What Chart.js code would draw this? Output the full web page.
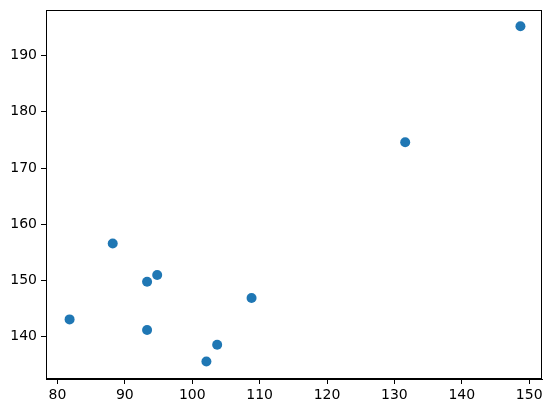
<!DOCTYPE html>
<html>
<head>
<meta charset="utf-8">
<script src="https://cdn.jsdelivr.net/npm/chart.js@4/dist/chart.umd.min.js"></script>
<style>
  html, body { margin: 0; padding: 0; background: #fff; }
  canvas { display: block; }
</style>
</head>
<body>
<canvas id="scatterChart" width="552" height="413"></canvas>
<script>
// Values
const xValues = [148.7, 131.6, 88.2, 94.8, 93.3, 81.8, 93.3, 108.8, 103.7, 102.1];
const yValues = [195.2, 174.6, 156.6, 151.0, 149.8, 143.1, 141.2, 146.9, 138.6, 135.6];
const xTicks = [80, 90, 100, 110, 120, 130, 140, 150];
const yTicks = [140, 150, 160, 170, 180, 190];

const points = xValues.map((x, i) => ({ x: x, y: yValues[i] }));

// matplotlib-style box around the plot area
const frameBox = {
    id: 'frameBox',
    afterDraw(chart) {
        const { ctx, chartArea } = chart;
        ctx.save();
        ctx.strokeStyle = '#000';
        ctx.lineWidth = 1;
        ctx.strokeRect(chartArea.left + 0.5, chartArea.top + 0.5,
            chartArea.right - chartArea.left - 1, chartArea.bottom - chartArea.top - 1);
        ctx.restore();
    }
};

const tickFont = { family: 'DejaVu Sans', size: 14 };

new Chart(document.getElementById('scatterChart').getContext('2d'), {
    type: 'scatter',
    data: {
        datasets: [{
            data: points,
            backgroundColor: '#1f77b4',
            borderWidth: 0,
            pointRadius: 5,
            pointHoverRadius: 5
        }]
    },
    options: {
        responsive: false,
        animation: false,
        layout: { padding: { top: 10, right: 10, left: 0, bottom: 0 } },
        plugins: { legend: { display: false }, tooltip: { enabled: false } },
        scales: {
            x: {
                type: 'linear',
                min: 78.3,
                max: 151.9,
                afterBuildTicks: scale => { scale.ticks = xTicks.map(v => ({ value: v })); },
                afterFit: scale => {
                    scale.height = 34;
                    scale.paddingLeft = 0;
                    scale.paddingRight = 0;
                },
                ticks: { color: '#000', font: tickFont, padding: 3, maxRotation: 0 },
                grid: { drawOnChartArea: false, color: '#000', tickLength: 5, tickWidth: 1 },
                border: { color: '#000', width: 1 }
            },
            y: {
                type: 'linear',
                min: 132.5,
                max: 198.1,
                afterBuildTicks: scale => { scale.ticks = yTicks.map(v => ({ value: v })); },
                afterFit: scale => {
                    scale.width = 46;
                    scale.paddingTop = 0;
                    scale.paddingBottom = 0;
                },
                ticks: { color: '#000', font: tickFont, padding: 4 },
                grid: { drawOnChartArea: false, color: '#000', tickLength: 5, tickWidth: 1 },
                border: { color: '#000', width: 1 }
            }
        }
    },
    plugins: [frameBox]
});
</script>
</body>
</html>
